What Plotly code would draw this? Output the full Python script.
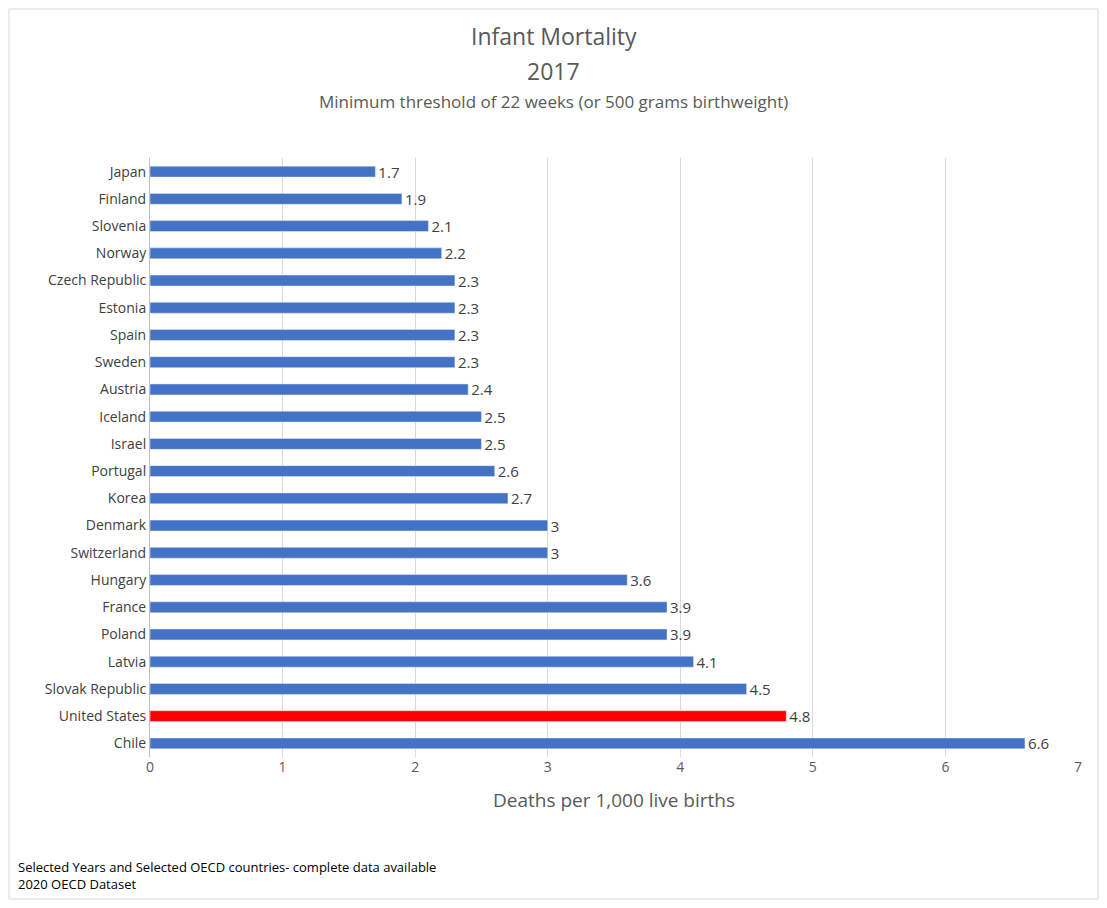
import plotly.graph_objects as go

countries = ["Japan", "Finland", "Slovenia", "Norway", "Czech Republic", "Estonia", "Spain",
             "Sweden", "Austria", "Iceland", "Israel", "Portugal", "Korea", "Denmark",
             "Switzerland", "Hungary", "France", "Poland", "Latvia", "Slovak Republic",
             "United States", "Chile"]
deaths = [1.7, 1.9, 2.1, 2.2, 2.3, 2.3, 2.3, 2.3, 2.4, 2.5, 2.5, 2.6, 2.7, 3, 3, 3.6,
          3.9, 3.9, 4.1, 4.5, 4.8, 6.6]
x_ticks = [0, 1, 2, 3, 4, 5, 6, 7]

colors = ["#ff0000" if c == "United States" else "#4472c4" for c in countries]
labels = [f"{v:g}" for v in deaths]

# page body has an 8px margin, so the figure is drawn 8px in from the corner
W, H = 1107 - 16, 908 - 16
L, R, T, B = 142, 21, 150, 143

fig = go.Figure(go.Bar(
    x=deaths, y=countries, orientation="h", width=0.4,
    marker=dict(color=colors),
    text=labels, textposition="outside", cliponaxis=False, constraintext="none",
    textfont=dict(size=15, color="#404040"),
))

pw, ph = W - L - R, H - T - B
fig.add_shape(type="rect", xref="paper", yref="paper",
              x0=-(L - 1) / pw, x1=1 + (R - 1) / pw, y0=-(B - 1) / ph, y1=1 + (T - 1) / ph,
              line=dict(color="#d9d9d9", width=1))

def top_text(text, y_px, size):
    fig.add_annotation(text=text, xref="paper", yref="paper", x=0.5 - (L - R) / 2 / pw * 0,
                       y=1 + (T - y_px) / ph, xanchor="center", yanchor="middle",
                       showarrow=False, font=dict(size=size, color="#595959"))

# title lines centred on the page
cx = (W / 2 - L) / pw
for text, y_px, size in [("Infant Mortality", 28, 23), ("2017", 63, 23),
                         ("Minimum threshold of 22 weeks (or 500 grams birthweight)", 94, 17)]:
    fig.add_annotation(text=text, xref="paper", yref="paper", x=cx,
                       y=1 + (T - y_px) / ph, xanchor="center", yanchor="middle",
                       showarrow=False, font=dict(size=size, color="#595959"))

fig.update_layout(
    width=W, height=H,
    margin=dict(l=L, r=R, t=T, b=B),
    plot_bgcolor="white", paper_bgcolor="white",
    font=dict(family="Open Sans, Liberation Sans, sans-serif", color="#595959", size=14),
    showlegend=False, bargap=0.6,
    xaxis=dict(range=[0, 7], tickvals=x_ticks, showgrid=True, gridcolor="#d9d9d9",
               zeroline=False, tickfont=dict(size=14, color="#595959"),
               title=dict(text="Deaths per 1,000 live births", font=dict(size=19, color="#595959"), standoff=18)),
    yaxis=dict(autorange="reversed", showline=True, linecolor="#bfbfbf",
               ticks="", ticklen=0, tickfont=dict(size=14, color="#404040")),
)

fig.add_annotation(text="Selected Years and Selected OECD countries- complete data available<br>2020 OECD Dataset",
                   xref="paper", yref="paper", x=-(L - 8) / pw, y=-(B - 5) / ph,
                   xanchor="left", yanchor="bottom", align="left", showarrow=False,
                   font=dict(size=13, color="#000000"))

fig.write_html("out.html")
